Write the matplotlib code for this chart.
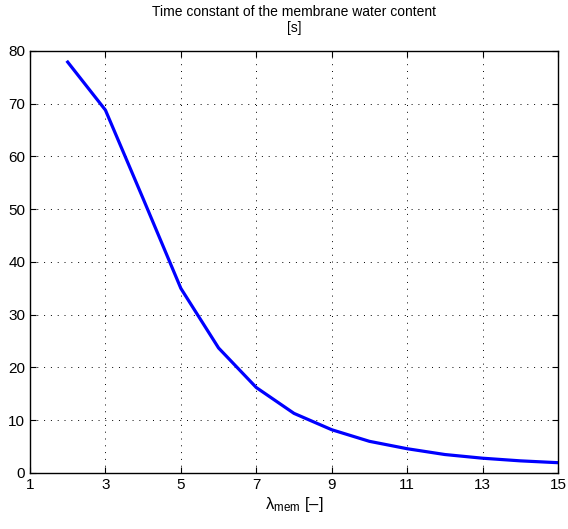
import matplotlib
matplotlib.use('agg')
import matplotlib.pyplot as plt

plt.rcParams['font.family'] = ['Liberation Sans', 'DejaVu Sans']
plt.rcParams['mathtext.fontset'] = 'custom'
plt.rcParams['mathtext.rm'] = 'Liberation Sans'
plt.rcParams['mathtext.it'] = 'Liberation Sans'

# membrane water content vs. its time constant
lambda_mem = [2, 3, 4, 5, 6, 7, 8, 9, 10, 11, 12, 13, 14, 15]
tau = [77.9, 68.8, 52.0, 35.0, 23.7, 16.2, 11.3, 8.2, 6.0, 4.6, 3.5, 2.8, 2.3, 1.95]
xticks = [1, 3, 5, 7, 9, 11, 13, 15]
yticks = [0, 10, 20, 30, 40, 50, 60, 70, 80]

fig = plt.figure(figsize=(5.68, 5.29), dpi=100)
ax = fig.add_axes([0.0528, 0.1059, 0.9296, 0.7977])

ax.plot(lambda_mem, tau, color=(0, 0, 1), linewidth=2.3)

ax.set_xlim(1, 15)
ax.set_ylim(0, 80)
ax.set_xticks(xticks)
ax.set_yticks(yticks)
ax.grid(True, color='black', linestyle=(0, (1, 6)), linewidth=0.7)
ax.tick_params(direction='in', top=True, right=True, labelsize=11, length=4, width=0.8)
for s in ax.spines.values():
    s.set_linewidth(1.0)

ax.set_title('Time constant of the membrane water content\n[s]', fontsize=10, linespacing=1.1, pad=14)
ax.set_xlabel(r'$\lambda_{\mathrm{mem}}$ [–]', fontsize=12, labelpad=2)

fig.savefig('out.png', dpi=100)
